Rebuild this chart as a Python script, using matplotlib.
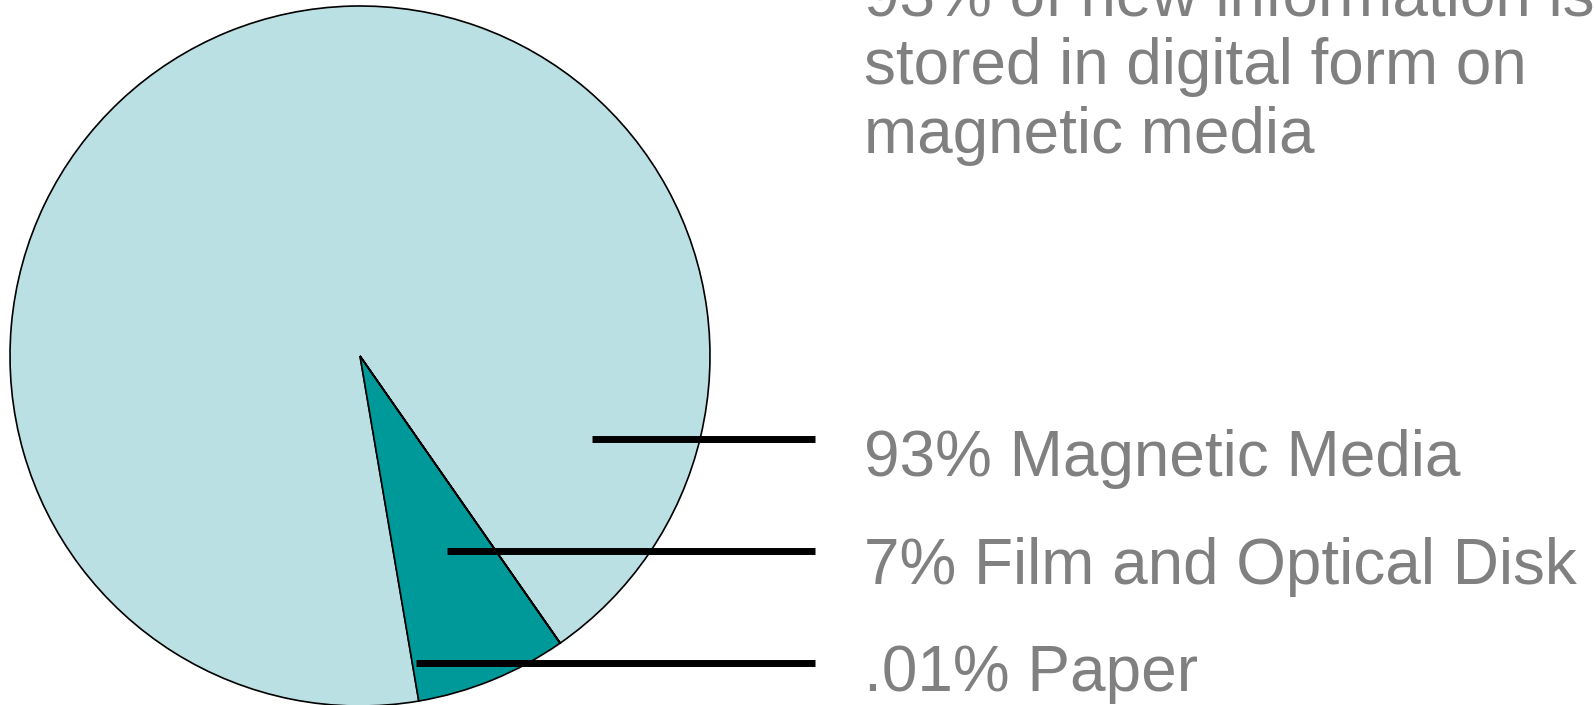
import matplotlib
matplotlib.use("Agg")
import matplotlib.pyplot as plt

# =========================
# データ
# =========================
labels = ["93% Magnetic Media", "7% Film and Optical Disk", ".01% Paper"]
shares = [93, 7, 0.01]
colors = ["#BBE0E3", "#009999", "#FFFFFF"]
title_lines = ["93% of new information is", "stored in digital form on", "magnetic media"]

W, H = 1594, 705
TEXT_COLOR = "#808080"
FONT = ["Liberation Sans", "DejaVu Sans"]
FS = 46

fig = plt.figure(figsize=(W / 100, H / 100), dpi=100)
ax = fig.add_axes([0, 0, 1, 1])

# pie (pixel coords, y up)
cx, cy, r = 360, H - 356, 350
ax.pie(shares, colors=colors, startangle=-55.1, center=(cx, cy), radius=r,
       counterclock=True,
       wedgeprops=dict(edgecolor="black", linewidth=1.2))

# leader lines
leader_y = [439, 551, 663]
leader_x0 = [592, 447, 416]
for x0, y in zip(leader_x0, leader_y):
    ax.plot([x0, 815], [H - y, H - y], color="black", linewidth=5,
            solid_capstyle="butt")

# labels
label_base = [476, 584, 691]
for txt, yb in zip(labels, label_base):
    ax.text(864, H - yb, txt, fontsize=FS, color=TEXT_COLOR, family=FONT,
            ha="left", va="baseline")

# title text top right
title_base = [16, 84, 153]
for txt, yb in zip(title_lines, title_base):
    ax.text(864, H - yb, txt, fontsize=FS, color=TEXT_COLOR, family=FONT,
            ha="left", va="baseline")

ax.set_xlim(0, W)
ax.set_ylim(0, H)
ax.set_aspect("equal")
ax.axis("off")

fig.savefig("out.png", dpi=100)
